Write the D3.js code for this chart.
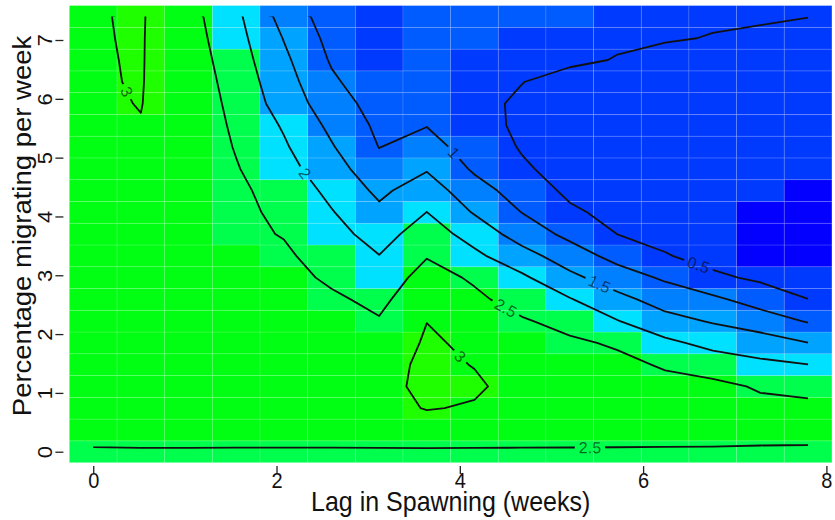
<!DOCTYPE html>
<html>
<head>
<meta charset="utf-8">
<script src="https://cdn.jsdelivr.net/npm/d3@7"></script>
<style>
body { margin: 0; background: #fff; }
svg { display: block; font-family: "Liberation Sans", Arial, Helvetica, sans-serif; }
</style>
</head>
<body>
<script>
var svgWidth = 835;
var svgHeight = 520;

// grid axes
var lag = [0, 0.52, 1.04, 1.56, 2.08, 2.6, 3.12, 3.64, 4.16, 4.68, 5.2, 5.72, 6.24, 6.76, 7.28, 7.8];
var pct = [0, 0.37, 0.74, 1.11, 1.48, 1.85, 2.22, 2.59, 2.96, 3.33, 3.7, 4.07, 4.44, 4.81, 5.18, 5.55, 5.92, 6.29, 6.66, 7.03, 7.4];

// one row per pct value (bottom to top), one value per lag
var z = [
  [2.42, 2.43, 2.43, 2.43, 2.43, 2.43, 2.43, 2.43, 2.43, 2.43, 2.43, 2.43, 2.43, 2.43, 2.42, 2.42],
  [2.80, 2.82, 2.82, 2.81, 2.81, 2.80, 2.82, 2.85, 2.83, 2.81, 2.79, 2.77, 2.75, 2.73, 2.70, 2.68],
  [2.86, 2.88, 2.87, 2.85, 2.85, 2.82, 2.90, 3.015, 2.975, 2.88, 2.82, 2.78, 2.72, 2.68, 2.62, 2.63],
  [2.88, 2.90, 2.88, 2.86, 2.85, 2.80, 2.92, 3.06, 3.04, 2.90, 2.80, 2.74, 2.64, 2.62, 2.45, 2.34],
  [2.89, 2.91, 2.89, 2.86, 2.84, 2.78, 2.87, 3.07, 2.99, 2.86, 2.72, 2.62, 2.45, 2.27, 2.11, 2.005],
  [2.90, 2.92, 2.89, 2.86, 2.82, 2.74, 2.72, 3.05, 2.93, 2.75, 2.58, 2.44, 2.11, 1.85, 1.72, 1.505],
  [2.91, 2.93, 2.89, 2.85, 2.79, 2.68, 2.54, 2.995, 2.78, 2.55, 2.34, 2.02, 1.66, 1.46, 1.26, 0.96],
  [2.92, 2.94, 2.89, 2.84, 2.74, 2.587, 2.37, 2.88, 2.60, 2.30, 2.03, 1.64, 1.30, 1.10, 0.78, 0.505],
  [2.93, 2.95, 2.89, 2.82, 2.68, 2.41, 2.19, 2.70, 2.43, 2.08, 1.62, 1.24, 0.93, 0.59, 0.42, 0.28],
  [2.93, 2.96, 2.89, 2.78, 2.56, 2.33, 2.01, 2.47, 2.10, 1.69, 1.24, 0.84, 0.53, 0.34, 0.18, 0.12],
  [2.94, 2.96, 2.89, 2.59, 2.48, 2.17, 1.81, 2.24, 1.81, 1.27, 0.88, 0.495, 0.36, 0.26, 0.15, 0.10],
  [2.94, 2.97, 2.89, 2.59, 2.42, 2.03, 1.60, 2.005, 1.46, 0.99, 0.58, 0.36, 0.28, 0.23, 0.16, 0.12],
  [2.95, 2.97, 2.88, 2.58, 2.34, 1.87, 1.40, 1.75, 1.20, 0.78, 0.40, 0.30, 0.25, 0.22, 0.22, 0.18],
  [2.95, 2.98, 2.87, 2.53, 2.18, 1.70, 1.19, 1.46, 0.93, 0.55, 0.36, 0.27, 0.24, 0.22, 0.24, 0.22],
  [2.96, 2.985, 2.85, 2.47, 2.06, 1.54, 0.99, 1.24, 0.72, 0.47, 0.33, 0.26, 0.24, 0.22, 0.25, 0.26],
  [2.96, 2.992, 2.87, 2.41, 1.95, 1.39, 0.90, 0.98, 0.58, 0.46, 0.33, 0.27, 0.25, 0.23, 0.27, 0.30],
  [2.97, 3.006, 2.85, 2.35, 1.79, 1.23, 0.80, 0.86, 0.57, 0.46, 0.36, 0.30, 0.28, 0.26, 0.30, 0.34],
  [2.98, 3.013, 2.815, 2.29, 1.70, 1.08, 0.68, 0.78, 0.57, 0.505, 0.42, 0.38, 0.33, 0.31, 0.35, 0.38],
  [2.978, 3.019, 2.77, 2.23, 1.60, 0.95, 0.59, 0.72, 0.58, 0.55, 0.54, 0.49, 0.42, 0.39, 0.41, 0.42],
  [2.979, 3.025, 2.72, 2.17, 1.48, 0.85, 0.57, 0.69, 0.61, 0.58, 0.57, 0.53, 0.52, 0.49, 0.47, 0.46],
  [2.978, 3.034, 2.677, 2.106, 1.32, 0.75, 0.55, 0.66, 0.65, 0.62, 0.61, 0.57, 0.55, 0.53, 0.52, 0.502]
];

// colour bins
var breaks = [0.2, 0.6, 1.0, 1.4, 1.8, 2.2, 2.6, 3.0];
var palette = ["#0400ff", "#003aff", "#005cff", "#0080ff", "#00a3ff", "#00e0ff", "#00ff4d", "#00ff12", "#1fff00"];

// contour levels and where their labels sit
var levels = [0.5, 1, 1.5, 2, 2.5, 3];
var labelLevel = [3, 2, 1, 1.5, 0.5, 2.5, 3, 2.5];
var labelLag = [0.34, 2.30, 3.92, 5.52, 6.60, 4.50, 4.03, 5.42];
var labelPct = [6.10, 4.72, 5.06, 2.84, 3.16, 2.44, 1.66, 0.11];

var xTicks = [0, 2, 4, 6, 8];
var yTicks = [0, 1, 2, 3, 4, 5, 6, 7];

var dx = lag[1] - lag[0];
var dy = pct[1] - pct[0];
var nx = lag.length, ny = pct.length;

var x = d3.scaleLinear()
    .domain([lag[0] - dx / 2, lag[nx - 1] + dx / 2])
    .range([69.4, 831.9]);
var y = d3.scaleLinear()
    .domain([pct[0] - dy / 2, pct[ny - 1] + dy / 2])
    .range([462.6, 5.6]);
var color = d3.scaleThreshold().domain(breaks).range(palette);

var svg = d3.select("body").append("svg")
    .attr("width", svgWidth)
    .attr("height", svgHeight);
var defs = svg.append("defs");

// cells
var cells = [];
z.forEach((row, j) => row.forEach((v, i) => cells.push({ i: i, j: j, v: v })));

svg.append("g")
  .selectAll("rect")
  .data(cells)
  .join("rect")
    .attr("x", d => x(lag[d.i] - dx / 2))
    .attr("y", d => y(pct[d.j] + dy / 2))
    .attr("width", d => x(lag[d.i] + dx / 2) - x(lag[d.i] - dx / 2))
    .attr("height", d => y(pct[d.j] - dy / 2) - y(pct[d.j] + dy / 2))
    .attr("fill", d => color(d.v))
    .attr("stroke", "rgba(255,255,255,0.16)")
    .attr("stroke-width", 0.8);

// contours
var values = [].concat(...z);
var contours = d3.contours().size([nx, ny]).thresholds(levels)(values);

function toData(p) {
    return [lag[0] + (p[0] - 0.5) * dx, pct[0] + (p[1] - 0.5) * dy];
}
var proj = d3.geoTransform({
    point: function(px, py) {
        var d = toData([px, py]);
        this.stream.point(x(d[0]), y(d[1]));
    }
});
var path = d3.geoPath(proj);

defs.append("clipPath").attr("id", "gridClip")
  .append("rect")
    .attr("x", x(lag[0]))
    .attr("y", y(pct[ny - 1]))
    .attr("width", x(lag[nx - 1]) - x(lag[0]))
    .attr("height", y(pct[0]) - y(pct[ny - 1]));

var mask = defs.append("mask").attr("id", "labelGaps")
    .attr("maskUnits", "userSpaceOnUse")
    .attr("x", 0).attr("y", 0).attr("width", svgWidth).attr("height", svgHeight);
mask.append("rect")
    .attr("width", svgWidth).attr("height", svgHeight).attr("fill", "white");

var lineGroup = svg.append("g").attr("clip-path", "url(#gridClip)")
  .append("g").attr("mask", "url(#labelGaps)");

lineGroup.selectAll("path")
  .data(contours)
  .join("path")
    .attr("d", path)
    .attr("fill", "none")
    .attr("stroke", "#111")
    .attr("stroke-width", 1.8)
    .attr("stroke-linejoin", "round");

// label placement: nearest point on the drawn line, rotated along it
function inside(d) {
    var e = 1e-6;
    return d[0] >= lag[0] - e && d[0] <= lag[nx - 1] + e && d[1] >= pct[0] - e && d[1] <= pct[ny - 1] + e;
}
function segmentsFor(level) {
    var c = contours.find(d => d.value === level);
    var segs = [];
    c.coordinates.forEach(poly => poly.forEach(ring => {
        for (var k = 0; k < ring.length - 1; k++) {
            var a = toData(ring[k]), b = toData(ring[k + 1]);
            if (inside(a) && inside(b)) segs.push([[x(a[0]), y(a[1])], [x(b[0]), y(b[1])]]);
        }
    }));
    return segs;
}

var labelGroup = svg.append("g");
labelLevel.forEach((lev, n) => {
    var px = x(labelLag[n]), py = y(labelPct[n]);
    var best = null, bestD = Infinity;
    segmentsFor(lev).forEach(s => {
        var ax = s[0][0], ay = s[0][1], bx = s[1][0], by = s[1][1];
        var vx = bx - ax, vy = by - ay, len2 = vx * vx + vy * vy;
        var t = len2 ? ((px - ax) * vx + (py - ay) * vy) / len2 : 0;
        t = Math.max(0, Math.min(1, t));
        var qx = ax + t * vx, qy = ay + t * vy;
        var dd = (qx - px) * (qx - px) + (qy - py) * (qy - py);
        if (dd < bestD) { bestD = dd; best = { x: qx, y: qy, a: Math.atan2(vy, vx) * 180 / Math.PI }; }
    });
    if (!best) return;
    var ang = best.a;
    if (ang > 90) ang -= 180;
    if (ang < -90) ang += 180;
    var tr = `translate(${best.x},${best.y}) rotate(${ang})`;
    var txt = labelGroup.append("text")
        .attr("transform", tr)
        .attr("text-anchor", "middle")
        .attr("dy", "0.36em")
        .attr("font-size", 16)
        .attr("fill", "#000")
        .attr("fill-opacity", 0.6)
        .text(String(lev));
    var w = txt.node().getComputedTextLength() + 8;
    mask.append("rect")
        .attr("x", -w / 2).attr("y", -8)
        .attr("width", w).attr("height", 16)
        .attr("transform", tr)
        .attr("fill", "black");
});

// axes: ticks only, set slightly off the image
var xAxis = svg.append("g")
    .attr("transform", `translate(0, ${y.range()[0] + 3.5})`)
    .call(d3.axisBottom(x).tickValues(xTicks).tickSize(8).tickPadding(4).tickFormat(d3.format("d")));
xAxis.select(".domain").remove();
xAxis.selectAll(".tick line").attr("stroke", "#222").attr("stroke-width", 1.3);
xAxis.selectAll(".tick text")
    .attr("y", null).attr("dy", null)
    .attr("font-size", 20)
    .attr("font-family", null)
    .attr("fill", "#111")
    .attr("transform", "translate(0, 22) scale(1, 1.1)");

var yAxis = svg.append("g")
    .attr("transform", `translate(${x.range()[0] - 6}, 0)`)
    .call(d3.axisLeft(y).tickValues(yTicks).tickSize(8).tickFormat(d3.format("d")));
yAxis.select(".domain").remove();
yAxis.selectAll(".tick line").attr("stroke", "#222").attr("stroke-width", 1.3);
yAxis.selectAll(".tick text")
    .attr("x", null).attr("dy", null)
    .attr("text-anchor", "middle")
    .attr("font-size", 20)
    .attr("font-family", null)
    .attr("fill", "#111")
    .attr("transform", "translate(-11, 0) rotate(-90) scale(1.1, 1)");

// titles
svg.append("text")
    .attr("transform", `translate(${(x.range()[0] + x.range()[1]) / 2}, 511) scale(1, 1.1)`)
    .attr("text-anchor", "middle")
    .attr("font-size", 25)
    .attr("fill", "#111")
    .text("Lag in Spawning (weeks)");

svg.append("text")
    .attr("transform", "translate(31, 226) rotate(-90) scale(1.1, 1)")
    .attr("text-anchor", "middle")
    .attr("font-size", 25)
    .attr("fill", "#111")
    .text("Percentage migrating per week");
</script>
</body>
</html>
